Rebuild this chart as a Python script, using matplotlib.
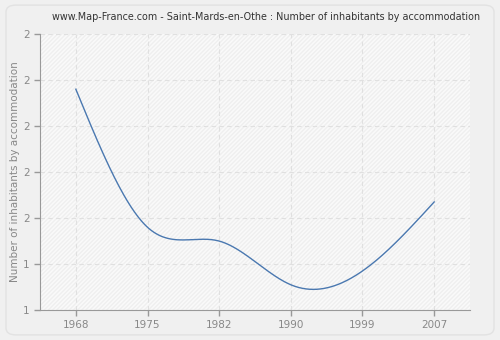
import numpy as np
import matplotlib.pyplot as plt
from matplotlib.patches import FancyBboxPatch

years = ['1968', '1975', '1982', '1990', '1999', '2007']
values = [2.16, 1.56, 1.50, 1.31, 1.37, 1.67]
yticks = [1.2, 1.4, 1.6, 1.8, 2.0, 2.2, 2.4]
ytick_labels = ['1', '1', '2', '2', '2', '2', '2']


def natural_spline(x, y, n=300):
    x = np.asarray(x, float)
    y = np.asarray(y, float)
    k = len(x)
    h = np.diff(x)
    a = np.zeros((k, k))
    b = np.zeros(k)
    a[0, 0] = 1
    a[-1, -1] = 1
    for i in range(1, k - 1):
        a[i, i - 1] = h[i - 1]
        a[i, i] = 2 * (h[i - 1] + h[i])
        a[i, i + 1] = h[i]
        b[i] = 6 * ((y[i + 1] - y[i]) / h[i] - (y[i] - y[i - 1]) / h[i - 1])
    m = np.linalg.solve(a, b)
    xs = np.linspace(x[0], x[-1], n)
    ys = np.empty_like(xs)
    for j, t in enumerate(xs):
        i = min(np.searchsorted(x, t, side='right') - 1, k - 2)
        d = h[i]
        u = x[i + 1] - t
        v = t - x[i]
        ys[j] = (m[i] * u**3 + m[i + 1] * v**3) / (6 * d) \
            + (y[i] / d - m[i] * d / 6) * u + (y[i + 1] / d - m[i + 1] * d / 6) * v
    return xs, ys


fig = plt.figure(figsize=(5, 3.4), dpi=100)
fig.patch.set_facecolor('#f0f0f0')
fig.patches.append(FancyBboxPatch((0.012, 0.015), 0.976, 0.97,
                                  boxstyle='round,pad=0,rounding_size=0.02',
                                  transform=fig.transFigure, facecolor='#f0f0f0',
                                  edgecolor='#e2e2e2', linewidth=1, zorder=-10))

ax = fig.add_axes([0.08, 0.088, 0.86, 0.812])
ax.set_facecolor('#fafafa')
ax.fill_between([-0.5, 5.5], 1.2, 2.4, facecolor='none', edgecolor='#efefef',
                hatch='////////', linewidth=0, zorder=0)

x = np.arange(len(years))
xs, ys = natural_spline(x, values)
ax.plot(xs, ys, color='#4a78b0', linewidth=1, zorder=3)

ax.set_xlim(-0.5, 5.5)
ax.set_ylim(1.2, 2.4)
ax.set_xticks(x)
ax.set_xticklabels(years)
ax.set_yticks(yticks)
ax.set_yticklabels(ytick_labels)
ax.grid(True, color='#e0e0e0', linestyle=(0, (4, 3)), linewidth=0.8)
ax.set_axisbelow(True)

for s in ['top', 'right']:
    ax.spines[s].set_visible(False)
for s in ['left', 'bottom']:
    ax.spines[s].set_color('#999999')
ax.tick_params(colors='#999999', labelcolor='#888888', labelsize=7.5, length=4, width=1)

ax.set_ylabel('Number of inhabitants by accommodation', color='#888888', fontsize=7.5,
              labelpad=2)
fig.text(0.532, 0.95,
         'www.Map-France.com - Saint-Mards-en-Othe : Number of inhabitants by accommodation',
         fontsize=6.9, color='#333333', ha='center', va='center')

fig.savefig('out.png', dpi=100, facecolor=fig.get_facecolor())
